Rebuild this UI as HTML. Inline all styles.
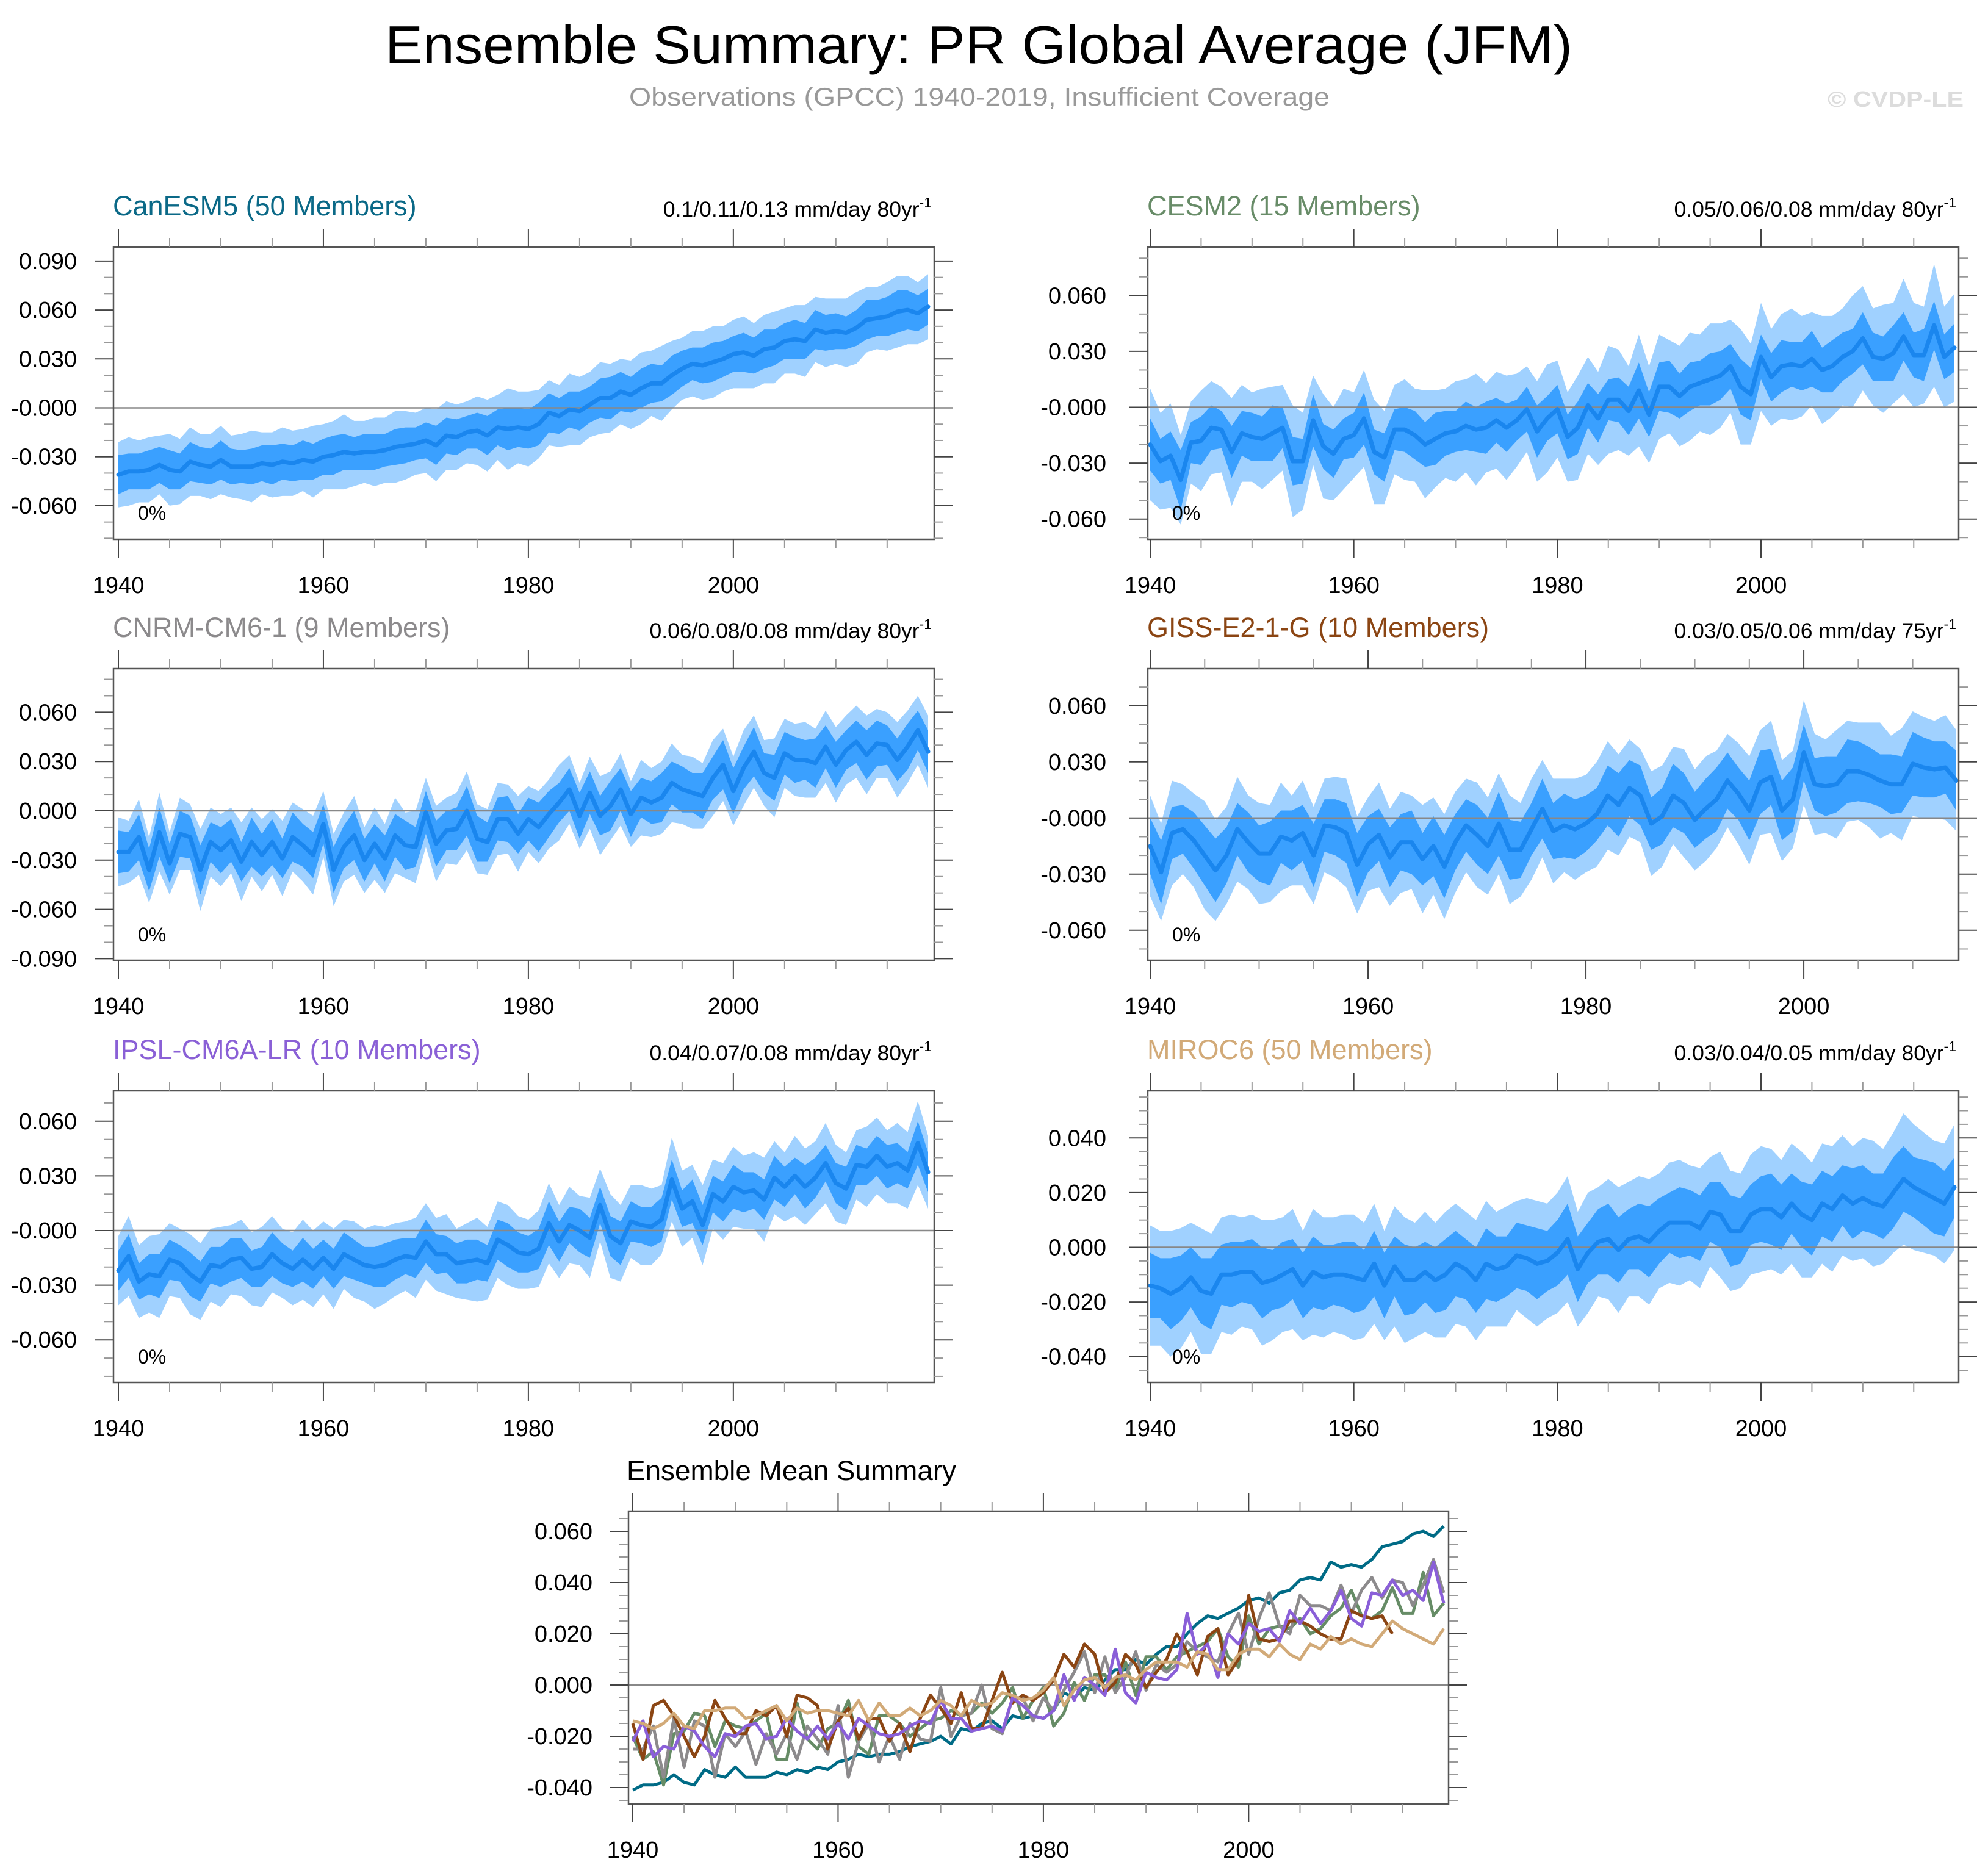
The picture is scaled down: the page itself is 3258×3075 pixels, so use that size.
<!DOCTYPE html>
<html><head><meta charset="utf-8"><title>Ensemble Summary: PR Global Average (JFM)</title>
<style>
html,body{margin:0;padding:0;background:#fff;}
svg{display:block;font-family:"Liberation Sans",Arial,sans-serif;}
</style></head>
<body>
<svg id="chart" width="3258" height="3075" viewBox="0 0 3258 3075" xmlns="http://www.w3.org/2000/svg">
<rect width="3258" height="3075" fill="#fff"/>
<text x="631" y="104" font-size="88" textLength="1946" lengthAdjust="spacingAndGlyphs" fill="#000">Ensemble Summary: PR Global Average (JFM)</text>
<text x="1031" y="173" font-size="42" textLength="1148" lengthAdjust="spacingAndGlyphs" fill="#999">Observations (GPCC) 1940-2019, Insufficient Coverage</text>
<text x="2995" y="175" font-size="36" font-weight="bold" textLength="223" lengthAdjust="spacingAndGlyphs" fill="#dcdcdc">© CVDP-LE</text>
<text x="1027" y="2426" font-size="45" textLength="540" lengthAdjust="spacingAndGlyphs" fill="#000">Ensemble Mean Summary</text>
</svg>
<script>
// ---- data (values in 0.001 mm/day) ----
const canMean=[-41,-39,-39,-38,-35,-38,-39,-33,-35,-36,-32,-36,-36,-36,-34,-35,-33,-34,-32,-33,-30,-29,-27,-28,-27,-27,-26,-24,-23,-22,-20,-23,-17,-18,-15,-14,-17,-12,-13,-12,-13,-10,-3,-5,-1,-2,2,6,6,10,8,12,15,15,20,24,27,26,28,30,33,34,32,36,37,41,42,41,48,46,47,46,49,54,55,56,59,60,58,62];
const canIn=[12,11,11,12,11,12,11,12,11,11,12,11,10,11,11,12,11,11,12,11,11,12,11,10,11,11,10,11,11,10,11,12,11,11,10,11,12,11,13,12,12,13,12,11,11,12,11,12,13,12,11,12,12,11,12,11,10,11,12,11,11,12,11,12,11,11,12,11,12,11,11,10,11,12,11,12,13,12,11,11];
const canOut=[20,21,19,20,18,22,20,21,19,20,21,19,20,22,19,20,21,20,19,22,20,21,23,20,19,21,20,22,21,19,20,22,21,20,19,21,22,20,25,22,23,21,20,19,22,21,20,22,21,20,21,22,20,23,21,19,20,21,22,20,21,22,20,21,22,20,21,22,20,21,20,21,22,20,19,21,22,21,19,20];

const cesmMean=[-20,-29,-26,-39,-19,-18,-11,-12,-24,-14,-16,-17,-14,-11,-29,-29,-7,-21,-25,-17,-15,-6,-24,-27,-12,-12,-15,-20,-17,-14,-13,-10,-12,-11,-7,-11,-7,-1,-13,-6,-1,-16,-11,1,-6,4,4,-2,9,-4,11,11,6,11,13,15,17,22,11,7,27,16,22,23,22,26,20,22,27,30,37,27,26,29,38,28,28,44,27,32];
const cesmIn=[14,12,13,16,11,13,12,10,14,12,13,12,15,11,13,12,14,12,13,11,12,14,12,13,11,12,13,12,14,12,11,13,12,14,12,13,11,12,14,12,13,12,14,12,13,11,12,13,15,12,13,14,12,13,12,14,13,12,15,14,12,13,14,12,13,15,12,14,13,12,14,13,12,15,13,12,14,13,12,13];
const cesmOut=[30,26,28,24,22,27,25,23,29,26,24,27,25,23,30,26,24,28,25,27,23,26,28,25,24,27,25,29,26,24,27,25,30,24,26,28,25,23,27,29,26,24,28,26,25,29,27,24,30,26,28,25,27,29,26,30,28,25,31,27,29,26,28,30,27,25,29,27,26,30,28,26,29,27,31,28,26,33,27,29];

const cnrmMean=[-25,-25,-16,-36,-13,-32,-14,-16,-36,-19,-24,-18,-31,-19,-27,-19,-29,-16,-21,-27,-8,-36,-22,-15,-30,-20,-29,-15,-21,-22,-1,-20,-12,-11,0,-17,-19,-5,-5,-14,-5,-10,-2,5,13,-3,11,-3,3,13,-2,8,5,8,17,13,11,9,20,28,12,26,36,23,20,35,31,31,29,39,28,37,42,34,41,40,31,39,49,36];
const cnrmIn=[13,12,14,13,15,12,14,13,15,12,14,13,12,15,13,14,12,15,13,14,12,14,13,15,13,12,14,13,15,12,13,14,12,13,15,14,12,13,14,12,13,15,14,12,13,14,13,12,15,13,14,12,13,15,13,14,12,14,13,15,14,13,15,12,14,13,14,12,15,13,14,12,13,15,14,12,13,14,12,13];
const cnrmOut=[21,19,23,20,24,19,22,20,25,21,22,20,24,21,22,20,23,21,22,24,20,22,21,24,20,22,21,23,20,22,21,23,20,22,24,21,20,22,21,23,20,22,21,23,21,20,22,24,21,22,20,23,21,22,24,21,22,20,23,22,21,23,22,20,24,21,22,23,21,22,23,21,22,24,21,20,23,22,21,22];

const gissMean=[-15,-29,-8,-6,-12,-20,-28,-20,-6,-13,-19,-19,-10,-12,-8,-20,-4,-5,-8,-25,-14,-9,-21,-13,-13,-22,-15,-26,-13,-4,-9,-15,-3,-17,-17,-6,5,-7,-4,-6,-3,2,12,7,16,12,-3,1,12,8,-1,5,10,20,13,4,19,22,4,10,35,18,17,18,25,25,23,20,18,18,29,27,26,27,20];
const gissIn=[15,17,14,13,15,16,17,15,14,16,15,17,14,16,15,17,14,15,16,17,15,14,16,15,17,14,16,17,15,14,16,15,17,16,15,14,16,15,17,16,15,14,16,17,15,16,14,15,17,16,15,16,17,15,14,16,17,15,16,17,15,14,16,15,17,16,15,14,16,15,17,16,15,14,16];
const gissOut=[27,26,28,24,25,29,27,26,28,25,27,26,29,24,28,26,25,27,29,26,25,28,26,27,25,29,26,28,27,25,28,26,27,29,25,27,26,28,25,27,26,28,29,27,26,25,28,27,26,29,27,28,26,25,27,29,28,30,27,26,28,27,25,29,27,26,28,31,26,30,28,27,26,28,27];

const ipslMean=[-22,-14,-28,-24,-25,-16,-18,-24,-28,-19,-20,-16,-15,-21,-20,-13,-18,-21,-16,-21,-15,-21,-13,-16,-19,-20,-19,-16,-14,-15,-6,-13,-13,-18,-17,-16,-18,-5,-8,-12,-13,-10,4,-6,3,0,-4,14,-3,-7,5,3,2,6,28,12,16,3,20,16,24,21,22,17,29,24,30,24,29,37,26,23,36,35,41,35,37,33,48,32];
const ipslIn=[11,12,10,11,12,11,10,12,11,10,11,12,11,10,11,12,11,10,12,11,10,11,12,11,10,11,12,11,10,11,12,11,10,11,12,11,10,11,12,11,10,11,12,11,10,12,11,10,11,12,11,10,11,12,11,10,12,11,10,11,12,11,10,11,12,11,10,12,11,10,11,12,11,10,11,12,11,10,12,11];
const ipslOut=[19,22,20,21,23,20,19,22,21,20,22,19,21,20,22,21,19,20,22,21,20,22,19,21,20,23,21,20,19,22,21,20,22,19,21,23,20,21,22,20,19,21,22,20,21,19,22,20,23,21,20,22,21,19,23,21,20,22,19,21,22,20,21,23,20,19,22,21,20,22,21,20,19,22,21,20,22,21,23,20];

const mirocMean=[-14,-15,-17,-15,-11,-16,-17,-10,-10,-9,-9,-13,-12,-10,-8,-14,-9,-11,-10,-10,-11,-12,-6,-14,-7,-12,-12,-9,-12,-10,-6,-8,-12,-6,-8,-7,-3,-4,-6,-5,-2,3,-8,-2,2,3,-1,3,4,2,6,9,9,9,7,13,12,6,6,12,14,14,11,16,12,10,16,14,19,16,18,16,15,20,25,22,20,18,16,22];
const mirocIn=[12,11,13,12,11,12,13,11,12,11,12,13,11,12,11,12,13,12,11,12,13,11,12,12,11,13,12,11,12,13,12,11,12,13,12,11,12,12,13,11,12,13,12,11,12,13,12,11,12,13,12,11,13,12,12,11,12,13,12,11,12,13,12,11,12,13,12,12,11,13,12,11,12,13,12,11,12,13,12,11];
const mirocOut=[22,21,23,22,20,23,22,21,22,20,21,23,22,21,22,20,23,22,21,22,23,21,22,20,22,23,21,22,21,23,22,21,22,23,21,22,20,22,23,21,22,23,21,22,20,22,23,21,22,23,21,22,23,21,22,20,23,22,21,22,23,22,21,22,23,21,22,23,22,21,22,23,21,22,24,23,22,21,22,23];

// tick values and labels
const xTickYears=[1940,1960,1980,2000];
const xTickLabels=['1940','1960','1980','2000'];
const ticks03=[0.09,0.06,0.03,0,-0.03,-0.06,-0.09];
const canTickLabels=['0.090','0.060','0.030','-0.000','-0.030','-0.060',''];
const cesmTickLabels=['','0.060','0.030','-0.000','-0.030','-0.060',''];
const cnrmTickLabels=['','0.060','0.030','0.000','-0.030','-0.060','-0.090'];
const gissTickLabels=['','0.060','0.030','-0.000','-0.030','-0.060',''];
const ipslTickLabels=['','0.060','0.030','-0.000','-0.030','-0.060',''];
const ticks02=[0.06,0.04,0.02,0,-0.02,-0.04];
const mirocTickLabels=['','0.040','0.020','0.000','-0.020','-0.040'];
const meanTickLabels=['0.060','0.040','0.020','0.000','-0.020','-0.040'];
const trendLabels=['0.1/0.11/0.13 mm/day 80yr','0.05/0.06/0.08 mm/day 80yr','0.06/0.08/0.08 mm/day 80yr','0.03/0.05/0.06 mm/day 75yr','0.04/0.07/0.08 mm/day 80yr','0.03/0.04/0.05 mm/day 80yr'];
const modelNames=['CanESM5 (50 Members)','CESM2 (15 Members)','CNRM-CM6-1 (9 Members)','GISS-E2-1-G (10 Members)','IPSL-CM6A-LR (10 Members)','MIROC6 (50 Members)'];

const NS='http://www.w3.org/2000/svg';
const svg=document.getElementById('chart');
function mk(tag,attrs,parent){const e=document.createElementNS(NS,tag);for(const k in attrs)e.setAttribute(k,attrs[k]);(parent||svg).appendChild(e);return e;}

const panels=[
 {key:'canesm5',mean:canMean,inn:canIn,out:canOut,ticks:ticks03,labels:canTickLabels,minor:0.01,color:'#0b6987',fx:186,fy:405,fw:1345,fh:479,x0:194,x1:1521,zero:668.5,ppu:80.2/0.03,lab:60},
 {key:'cesm2',mean:cesmMean,inn:cesmIn,out:cesmOut,ticks:ticks03,labels:cesmTickLabels,minor:0.01,color:'#688c68',fx:1881,fy:405,fw:1329,fh:479,x0:1885,x1:3203,zero:667.5,ppu:91.6/0.03,lab:68},
 {key:'cnrm-cm6-1',mean:cnrmMean,inn:cnrmIn,out:cnrmOut,ticks:ticks03,labels:cnrmTickLabels,minor:0.01,color:'#8c8a8c',fx:186,fy:1096,fw:1345,fh:478,x0:194,x1:1521,zero:1329,ppu:80.8/0.03,lab:60},
 {key:'giss-e2-1-g',mean:gissMean,inn:gissIn,out:gissOut,ticks:ticks03,labels:gissTickLabels,minor:0.01,color:'#8b4513',fx:1881,fy:1096,fw:1329,fh:478,x0:1885,x1:3206,zero:1340.8,ppu:92/0.03,lab:68},
 {key:'ipsl-cm6a-lr',mean:ipslMean,inn:ipslIn,out:ipslOut,ticks:ticks03,labels:ipslTickLabels,minor:0.01,color:'#8a60d6',fx:186,fy:1788,fw:1345,fh:478,x0:194,x1:1521,zero:2017,ppu:89.6/0.03,lab:60},
 {key:'miroc6',mean:mirocMean,inn:mirocIn,out:mirocOut,ticks:ticks02,labels:mirocTickLabels,minor:0.005,color:'#d2aa78',fx:1881,fy:1788,fw:1329,fh:478,x0:1885,x1:3203,zero:2044.5,ppu:89.6/0.02,lab:68}
];

function axes(g,p,xs,ys,tickLabels,key){
  const top=p.fy,bot=p.fy+p.fh,left=p.fx,right=p.fx+p.fw;
  const vTop=(p.zero-top)/p.ppu, vBot=(p.zero-bot)/p.ppu;
  const lo=Math.ceil(vBot/p.minor-1e-6),hi=Math.floor(vTop/p.minor+1e-6);
  for(let k=lo;k<=hi;k++){
    const v=k*p.minor; const y=ys(v);
    const isMajor=p.ticks.some(t=>Math.abs(t-v)<1e-9);
    const len=isMajor?30:15;
    const t1=mk('line',{x1:left-len,x2:left,y1:y,y2:y,stroke:isMajor?'#444':'#999','stroke-width':2},g);
    
    
    const t2=mk('line',{x1:right,x2:right+len,y1:y,y2:y,stroke:isMajor?'#444':'#999','stroke-width':2},g);
    
    
  }
  p.ticks.forEach((t,i)=>{
    if(!tickLabels[i])return; const y=ys(t);
    if(y<top-2||y>bot+2)return;
    const tx=mk('text',{x:left-p.lab,y:y+13,'font-size':38,'text-anchor':'end',fill:'#000'},g);
    tx.textContent=tickLabels[i];
    
    
  });
  for(let yr=1940;yr<=2020;yr+=5){
    const x=xs(yr); if(x>right+1)continue;
    const major=(yr%20===0); const len=major?30:15;
    const a=mk('line',{x1:x,x2:x,y1:top-len,y2:top,stroke:major?'#444':'#999','stroke-width':2},g);
    
    
    const b=mk('line',{x1:x,x2:x,y1:bot,y2:bot+len,stroke:major?'#444':'#999','stroke-width':2},g);
    
    
  }
  xTickYears.forEach((yr,i)=>{
    const tx=mk('text',{x:xs(yr),y:bot+88,'font-size':38,'text-anchor':'middle',fill:'#000'},g);
    tx.textContent=xTickLabels[i];
    
    
  });
}

panels.forEach((p,pi)=>{
  const g=mk('g',{});
  
  
  const n=p.mean.length;
  const xs=yr=>p.x0+(yr-1940)*(p.x1-p.x0)/(n-1);
  const ys=v=>p.zero-v*p.ppu;
  const clipId='clip'+pi;
  const cp=mk('clipPath',{id:clipId},g); mk('rect',{x:p.fx,y:p.fy,width:p.fw,height:p.fh},cp);
  const plot=mk('g',{'clip-path':'url(#'+clipId+')'},g);
  function band(arr,fill,name){
    const up=[],dn=[];
    for(let i=0;i<n;i++){const m=p.mean[i]/1000,s=arr[i]/1000;up.push(xs(1940+i)+','+ys(m+s));dn.push(xs(1940+i)+','+ys(m-s));}
    const poly=mk('polygon',{points:up.concat(dn.reverse()).join(' '),fill:fill},plot);
    
    
  }
  band(p.out,'#a0d1ff','outer-spread-band');
  band(p.inn,'#3aa0ff','inner-spread-band');
  const zl=mk('line',{x1:p.fx,x2:p.fx+p.fw,y1:ys(0),y2:ys(0),stroke:'#888','stroke-width':2.5},plot);
  
  
  const pts=p.mean.map((v,i)=>xs(1940+i)+','+ys(v/1000)).join(' ');
  const ml=mk('polyline',{points:pts,fill:'none',stroke:'#1a86ee','stroke-width':7,'stroke-linejoin':'round','stroke-linecap':'round'},plot);
  
  
  const fr=mk('rect',{x:p.fx,y:p.fy,width:p.fw,height:p.fh,fill:'none',stroke:'#555','stroke-width':2.5},g);
  
  
  axes(g,p,xs,ys,p.labels,p.key);
  const tt=mk('text',{x:p.fx-1,y:p.fy-52,'font-size':45,fill:p.color},g);
  tt.textContent=modelNames[pi];
  
  
  const tr=mk('text',{x:p.fx+p.fw-4,y:p.fy-50,'font-size':35.5,'text-anchor':'end',fill:'#000'},g);
  tr.textContent=trendLabels[pi];
  const sup=mk('tspan',{'font-size':23,dy:-15},tr); sup.textContent='-1';
  
  
  const pc=mk('text',{x:p.fx+40,y:p.fy+447,'font-size':32,fill:'#000'},g);
  pc.textContent='0%';
  
  
});

(function(){
  const p={fx:1030,fy:2477,fw:1344,fh:480,x0:1037,x1:2366,zero:2762,ppu:84/0.02,ticks:ticks02,minor:0.005,lab:59};
  const g=mk('g',{});
  
  
  const xs=yr=>p.x0+(yr-1940)*(p.x1-p.x0)/79;
  const ys=v=>p.zero-v*p.ppu;
  const cp=mk('clipPath',{id:'clipSum'},g); mk('rect',{x:p.fx,y:p.fy,width:p.fw,height:p.fh},cp);
  const plot=mk('g',{'clip-path':'url(#clipSum)'},g);
  const zl=mk('line',{x1:p.fx,x2:p.fx+p.fw,y1:ys(0),y2:ys(0),stroke:'#888','stroke-width':2},plot);
  
  
  const series=[canMean,cesmMean,cnrmMean,gissMean,ipslMean,mirocMean];
  const names=['canesm5','cesm2','cnrm-cm6-1','giss-e2-1-g','ipsl-cm6a-lr','miroc6'];
  const cols=['#006b86','#668c66','#8c8a8c','#8b4513','#8a5fd8','#d2aa78'];
  const order=[0,1,2,3,4,5];
  order.forEach(k=>{
    const arr=series[k];
    const pts=arr.map((v,i)=>xs(1940+i)+','+ys(v/1000)).join(' ');
    const l=mk('polyline',{points:pts,fill:'none',stroke:cols[k],'stroke-width':5,'stroke-linejoin':'round'},plot);
    
    
  });
  const fr=mk('rect',{x:p.fx,y:p.fy,width:p.fw,height:p.fh,fill:'none',stroke:'#555','stroke-width':2.5},g);
  
  
  axes(g,p,xs,ys,meanTickLabels,'summary');
})();
</script>
</body></html>
